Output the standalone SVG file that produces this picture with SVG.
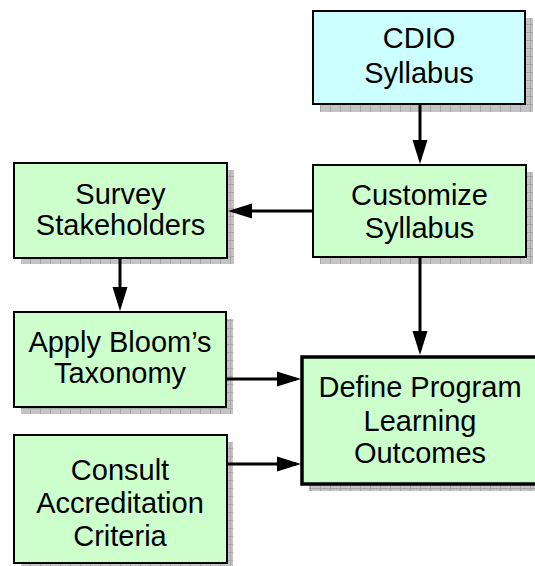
<svg xmlns="http://www.w3.org/2000/svg" width="535" height="566" viewBox="0 0 535 566">
<defs>
<pattern id="hatch" patternUnits="userSpaceOnUse" width="10" height="8">
<rect width="10" height="8" fill="#c4c4c4"/>
<path d="M0,0.5 H10 M0.5,0 V8" stroke="#a6a6a6" stroke-width="1"/>
</pattern>
<marker id="ah" markerUnits="userSpaceOnUse" markerWidth="24" markerHeight="16" refX="19" refY="8" orient="auto">
<path d="M0,0.5 L24,8 L0,15.5 z" fill="#000"/>
</marker>
</defs>
<style>
.sh{fill:url(#hatch);}
.bx{fill:#ccffcc;stroke:#000;stroke-width:2;}
.cy{fill:#ccffff;}
.big{stroke-width:3.5;}
.t{font-family:"Liberation Sans",Arial,sans-serif;font-size:29px;fill:#000;text-anchor:middle;}
.cn{stroke:#000;stroke-width:3;fill:none;marker-end:url(#ah);}
</style>
<rect width="535" height="566" fill="#fff"/>
<g id="cdio">
<rect class="sh" x="320" y="18" width="213" height="94"/>
<rect class="bx cy" x="313" y="11" width="212" height="93"/>
<text class="t" x="419" y="48">CDIO</text>
<text class="t" x="419" y="83">Syllabus</text>
</g>
<g id="customize">
<rect class="sh" x="320" y="172" width="213" height="92"/>
<rect class="bx" x="313" y="165" width="213" height="92"/>
<text class="t" x="419.5" y="205">Customize</text>
<text class="t" x="419.5" y="238">Syllabus</text>
</g>
<g id="survey">
<rect class="sh" x="21" y="170" width="213" height="94"/>
<rect class="bx" x="14" y="163" width="213" height="95"/>
<text class="t" x="120.5" y="204">Survey</text>
<text class="t" x="120.5" y="235">Stakeholders</text>
</g>
<g id="apply">
<rect class="sh" x="21" y="319" width="212" height="95"/>
<rect class="bx" x="14" y="312" width="212" height="95"/>
<text class="t" x="120" y="352">Apply Bloom’s</text>
<text class="t" x="120" y="383">Taxonomy</text>
</g>
<g id="consult">
<rect class="sh" x="21" y="442" width="212" height="128"/>
<rect class="bx" x="14" y="435" width="213" height="128"/>
<text class="t" x="120" y="480">Consult</text>
<text class="t" x="120" y="513">Accreditation</text>
<text class="t" x="120" y="546">Criteria</text>
</g>
<g id="define">
<rect class="sh" x="309" y="364" width="240" height="127"/>
<rect class="bx big" x="302" y="357" width="240" height="127"/>
<text class="t" x="420" y="397">Define Program</text>
<text class="t" x="420" y="431">Learning</text>
<text class="t" x="420" y="463">Outcomes</text>
</g>
<g id="connectors">
<line class="cn" x1="420" y1="105" x2="420" y2="159"/>
<line class="cn" x1="312" y1="211" x2="233" y2="211"/>
<line class="cn" x1="120" y1="259" x2="120" y2="306"/>
<line class="cn" x1="420" y1="258" x2="420" y2="350"/>
<line class="cn" x1="227" y1="379" x2="296" y2="379"/>
<line class="cn" x1="228" y1="464" x2="296" y2="464"/>
</g>
</svg>
